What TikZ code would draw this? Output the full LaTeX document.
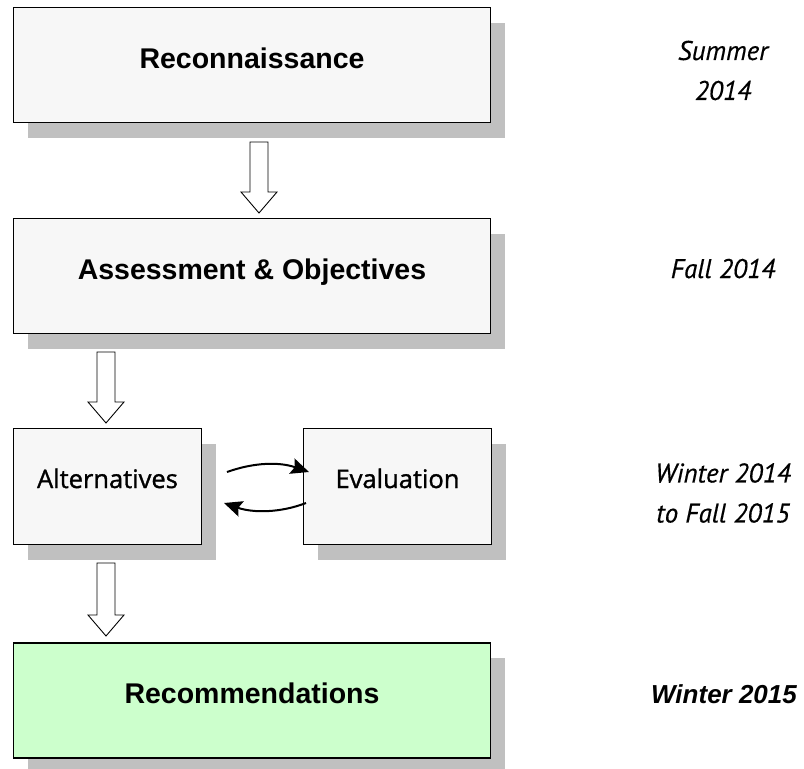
\documentclass[tikz,border=0pt]{standalone}
\usepackage{fontspec}
\newfontfamily\arialf{Liberation Sans}
\newfontfamily\humanf[FakeBold=0.4]{PT Sans}
\newfontfamily\boxsans[FakeBold=1.2]{Open Sans}
\usetikzlibrary{shadows,arrows.meta}
\definecolor{boxfill}{HTML}{F7F7F7}
\definecolor{greenfill}{HTML}{CCFFCC}
\definecolor{shadowgray}{HTML}{C0C0C0}
\tikzset{
 stagebox/.style={draw=black, line width=1.5pt, fill=boxfill, rectangle, inner sep=0pt,
   drop shadow={shadow xshift=14pt, shadow yshift=-15pt, fill=shadowgray, opacity=1}},
 widebox/.style={stagebox, minimum width=477pt, minimum height=115pt,
   font=\arialf\bfseries\fontsize{28.5}{30}\selectfont, text height=20pt, text depth=14pt},
 smallbox/.style={stagebox, minimum width=188pt, minimum height=116pt,
   font=\boxsans\fontsize{25.5}{28}\selectfont, text height=18pt, text depth=15pt},
 datetext/.style={font=\humanf\itshape\fontsize{27}{40}\selectfont, align=center, inner sep=0pt},
 boldate/.style={font=\arialf\bfseries\itshape\fontsize{26}{30}\selectfont, inner sep=0pt},
 hollow/.style={draw=black, line width=0.9pt, fill=white},
 loopline/.style={line width=2pt, -{Stealth[length=18pt 0,width=16pt 0,inset=3pt 0]}}
}
\newcommand\hollowarrow[3]{%
  \draw[hollow] (#1-9,#2) -- (#1+9,#2) -- (#1+9,#3-21) -- (#1+18,#3-21) -- (#1,#3)
    -- (#1-18,#3-21) -- (#1-9,#3-21) -- cycle;}
\begin{document}
\begin{tikzpicture}[x=1pt, y=-1pt]
\path[use as bounding box, fill=white] (0,0) rectangle (804,769);

\node[widebox] (recon) at (252,65) {Reconnaissance};
\node[widebox] (assess) at (252,276) {Assessment \& Objectives};
\node[smallbox] (alt) at (107.5,486.5) {Alternatives};
\node[smallbox] (eval) at (397.5,486.5) {Evaluation};
\node[widebox, fill=greenfill] (recom) at (252,700.5) {Recommendations};

\hollowarrow{259}{142}{213}
\hollowarrow{106}{352}{423}
\hollowarrow{106}{563}{636}

\coordinate (fwdS) at (227,472);
\coordinate (fwdE) at (309,472);
\coordinate (bwdS) at (306,503);
\coordinate (bwdE) at (224,503);
\draw[loopline] (fwdS) .. controls (255,462) and (280,462) .. (fwdE);
\draw[loopline] (bwdS) .. controls (280,513) and (253,513) .. (bwdE);

\node[datetext] (d1) at (723,70.5) {Summer\\2014};
\node[datetext, anchor=base] (d2) at (723,278) {Fall 2014};
\node[datetext] (d3) at (723,493) {Winter 2014\\to Fall 2015};
\node[boldate, anchor=base] (d4) at (724,703) {Winter 2015};
\end{tikzpicture}
\end{document}
